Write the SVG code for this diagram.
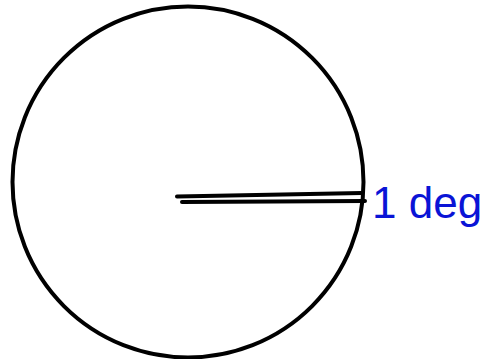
<svg xmlns="http://www.w3.org/2000/svg" width="487" height="359" viewBox="0 0 487 359">
<style>
.ink{fill:none;stroke:#000;stroke-width:4;stroke-linecap:round}
.lbl{font-family:"Liberation Sans",Arial,sans-serif;font-size:44px;fill:#0a14d6}
</style>
<rect width="487" height="359" fill="#fff"/>
<g id="circle"><circle class="ink" cx="188" cy="182" r="175.5"/></g>
<g id="connectors">
<path class="ink" d="M177 196.5 L362 193"/>
<path class="ink" d="M182 202 L365 201"/>
</g>
<g id="label"><text class="lbl" x="372" y="218">1 deg</text></g>
</svg>
